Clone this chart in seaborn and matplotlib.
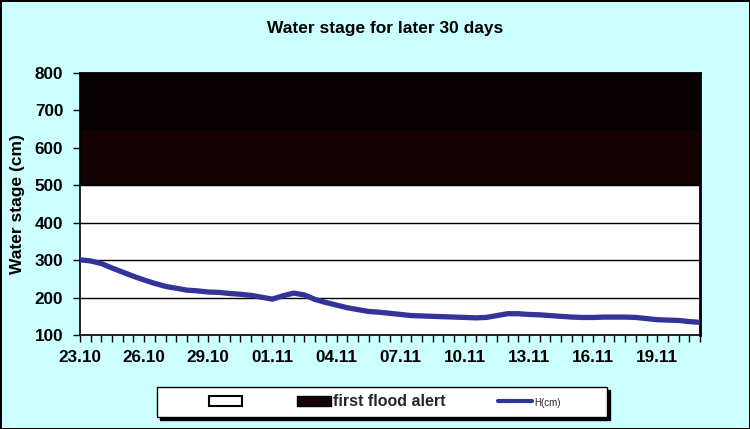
import matplotlib.pyplot as plt
import matplotlib.patches as mpatches
from matplotlib.lines import Line2D
import numpy as np
import pandas as pd
import seaborn as sns

# water stage every 12 hours, 23.10 -> 21.11 (cm)
levels = [301, 298, 291, 279, 268, 257, 247, 238, 230, 225,
          220, 218, 215, 214, 211, 209, 206, 201, 196, 205,
          212, 207, 195, 187, 180, 173, 168, 163, 161, 158,
          155, 152, 151, 150, 149, 148, 147, 146, 147, 152,
          157, 157, 155, 154, 152, 150, 148, 147, 147, 148,
          148, 148, 147, 144, 141, 140, 139, 136, 134]
tick_labels = ['23.10', '26.10', '29.10', '01.11', '04.11',
               '07.11', '10.11', '13.11', '16.11', '19.11']
label_step = 6
axis_bottom = 100
normal_top = 500   # white band
alert_top = 650    # first flood alert band
axis_top = 800

sns.set_theme(style='white')
plt.rcParams['font.family'] = ['Liberation Sans', 'DejaVu Sans']

df = pd.DataFrame({'step': np.arange(len(levels)), 'H(cm)': levels})

fig = plt.figure(figsize=(7.5, 4.29), dpi=100, facecolor='#ccffff',
                 edgecolor='black', linewidth=2)
ax = fig.add_axes([0.1067, 0.219, 0.8266, 0.6107])
ax.set_facecolor('white')

x = df['step']
ax.fill_between(x, axis_bottom, normal_top, color='white', zorder=0.3)
ax.fill_between(x, normal_top, alert_top, facecolor='#140000',
                edgecolor='black', lw=1.5, zorder=2)
ax.fill_between(x, alert_top, axis_top, facecolor='#070000',
                edgecolor='black', lw=1.5, zorder=2)

ax.set_axisbelow(True)
ax.yaxis.grid(True, color='black', lw=1)
ax.xaxis.grid(False)

sns.lineplot(data=df, x='step', y='H(cm)', ax=ax, color='#333399',
             lw=3.8, zorder=3, solid_capstyle='round')

ax.set_xlim(0, len(levels) - 1)
ax.set_ylim(axis_bottom, axis_top)
ax.set_yticks(range(axis_bottom, axis_top + 1, 100))
ax.set_xticks(range(0, len(levels), label_step))
ax.set_xticklabels(tick_labels)
ax.set_xticks(range(len(levels)), minor=True)
ax.tick_params(axis='both', which='both', direction='out', length=5,
               width=1, color='black', bottom=True, left=True,
               labelsize=12.3, labelcolor='black')
ax.tick_params(axis='y', pad=7)
ax.tick_params(axis='x', pad=5.5)
plt.setp(ax.get_xticklabels() + ax.get_yticklabels(), fontweight='bold')

for side in ['left', 'bottom']:
    ax.spines[side].set_color('black')
    ax.spines[side].set_linewidth(1.2)
for side in ['right', 'top']:
    ax.spines[side].set_color('black')
    ax.spines[side].set_linewidth(2)

ax.set_xlabel('')
ax.set_ylabel('Water stage (cm)', fontsize=12.5, fontweight='bold',
              color='black', labelpad=7)

fig.text(0.513, 0.934, 'Water stage for later 30 days', ha='center',
         va='center', fontsize=12.5, fontweight='bold', color='black')

# legend box with shadow
fig.add_artist(mpatches.Rectangle((0.2133, 0.021), 0.6, 0.0699,
                                  transform=fig.transFigure,
                                  facecolor='black', edgecolor='black'))
fig.add_artist(mpatches.Rectangle((0.2093, 0.028), 0.6, 0.0699,
                                  transform=fig.transFigure,
                                  facecolor='white', edgecolor='black', lw=1))

handles = [mpatches.Patch(facecolor='white', edgecolor='black', lw=1.5),
           mpatches.Patch(facecolor='#140000', edgecolor='black', lw=1),
           Line2D([], [], color='#333399', lw=3)]
leg = fig.legend(handles, ['', 'first flood alert', 'H(cm)'], ncol=3,
                 loc='center', bbox_to_anchor=(0.513, 0.063), frameon=False,
                 fontsize=11.5, handlelength=2.1, handleheight=0.55,
                 handletextpad=0.15, columnspacing=3.3)
texts = leg.get_texts()
texts[1].set_fontweight('bold')
texts[2].set_fontsize(7)

fig.savefig('out.png', dpi=100, facecolor=fig.get_facecolor(),
            edgecolor=fig.get_edgecolor())
